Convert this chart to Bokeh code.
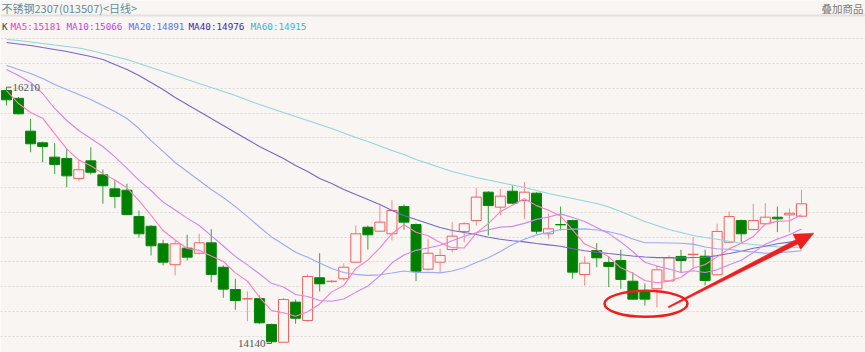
import math
from bokeh.plotting import figure
from bokeh.models import Range1d, Grid, FixedTicker, Label, ColumnDataSource, Span
from bokeh.embed import file_html
from bokeh.resources import INLINE

# ---------------- data ----------------
opens = [16183, 16120, 15855, 15761, 15645, 15634, 15473, 15615, 15502, 15389,
         15378, 15166, 15087, 14945, 14776, 14910, 14869, 14953, 14756, 14576,
         14500, 14503, 14293, 14150, 14474, 14326, 14671, 14640, 14663, 14797,
         15079, 15047, 15026, 15246, 15101, 14740, 14797, 14899, 15045, 15133,
         15362, 15241, 15370, 15295, 15354, 15026, 15101, 15133, 14697, 14891,
         14794, 14810, 14643, 14562, 14582, 14645, 14843, 14858, 14845, 14695,
         14958, 15133, 15061, 15107, 15160, 15179, 15168]
highs = [16210, 16130, 15955, 15770, 15758, 15712, 15624, 15725, 15545, 15462,
         15430, 15214, 15095, 14978, 14972, 15018, 15026, 15063, 14770, 14663,
         14560, 14528, 14300, 14506, 14495, 14697, 14869, 14652, 14786, 15093,
         15093, 15255, 15300, 15263, 15110, 14986, 14905, 15120, 15120, 15397,
         15370, 15389, 15416, 15443, 15362, 15188, 15246, 15141, 14843, 14950,
         14843, 14897, 14716, 14625, 14770, 14851, 14897, 14998, 14897, 15107,
         15208, 15141, 15268, 15273, 15246, 15230, 15381]
lows = [16062, 15990, 15685, 15604, 15510, 15402, 15451, 15505, 15268, 15233,
        15174, 14994, 14851, 14770, 14689, 14810, 14859, 14635, 14509, 14412,
        14320, 14300, 14140, 14145, 14299, 14318, 14560, 14632, 14649, 14790,
        14899, 15040, 14972, 15058, 14643, 14730, 14716, 14877, 14958, 15093,
        15012, 15174, 15265, 15147, 15026, 14986, 15053, 14663, 14608, 14756,
        14595, 14582, 14495, 14447, 14431, 14640, 14716, 14743, 14608, 14690,
        14955, 14958, 15053, 15100, 15039, 15039, 15165]
closes = [16108, 15995, 15753, 15731, 15586, 15494, 15543, 15523, 15414, 15327,
          15182, 15026, 14929, 14797, 14945, 14837, 14953, 14697, 14579, 14487,
          14502, 14307, 14154, 14495, 14344, 14681, 14622, 14643, 14756, 15026,
          15018, 15120, 15214, 15120, 14724, 14869, 14851, 15007, 15107, 15322,
          15255, 15330, 15273, 15362, 15047, 15066, 15098, 14716, 14789, 14832,
          14762, 14657, 14498, 14498, 14735, 14832, 14810, 14861, 14649, 15045,
          15166, 15026, 15133, 15160, 15147, 15192, 15268]

# moving-average values before their window is full
ma5_head = [16183, 16078, 16006, 15960]
ma10_head = [16353, 16304, 16248, 16159, 16038, 15941, 15860, 15796, 15731]
ma20_head = [16385, 16353, 16321, 16280, 16232, 16191, 16151, 16111, 16062, 16014,
             15957, 15876, 15779, 15691, 15602, 15529, 15456, 15384, 15319]
ma40_head = [16571, 16559, 16547, 16530, 16514, 16498, 16478, 16458, 16434, 16393,
             16353, 16304, 16248, 16191, 16127, 16070, 16014, 15957, 15901, 15844,
             15788, 15731, 15683, 15634, 15578, 15529, 15473, 15432, 15384, 15343,
             15303, 15263, 15214, 15174, 15141, 15109, 15077, 15053, 15036]
ma60_head = [16595, 16587, 16575, 16563, 16551, 16539, 16526, 16506, 16482, 16458,
             16434, 16401, 16369, 16337, 16304, 16272, 16240, 16207, 16175, 16143,
             16106, 16070, 16038, 16006, 15973, 15941, 15909, 15876, 15840, 15804,
             15771, 15735, 15699, 15666, 15626, 15594, 15561, 15529, 15505, 15481,
             15460, 15440, 15420, 15400, 15376, 15351, 15331, 15311, 15291, 15271,
             15242, 15206, 15166, 15125, 15093, 15061, 15036, 15012, 14996]

title_text = "不锈钢2307(013507)<日线>"
overlay_text = "叠加商品"
legend_labels = ["K", "MA5:15181", "MA10:15066", "MA20:14891", "MA40:14976", "MA60:14915"]
grid_prices = [14200, 14400, 14600, 14800, 15000, 15200, 15400, 15600, 15800, 16000, 16200, 16400, 16600]

# ---------------- styling / geometry ----------------
W, H = 865, 352
BG = "#F8F5F2"
X0_PX, STEP_PX = 6.0, 12.045          # centre of first candle, candle spacing
REF_PRICE, REF_PX, PRICE_PER_PX = 14140.0, 343.0, 8.076


def px2x(px):
    return (px - X0_PX) / STEP_PX


def py2y(py):
    return REF_PRICE + (REF_PX - py) * PRICE_PER_PX


def moving_average(head, n):
    out = list(head)
    for i in range(len(head), len(closes)):
        out.append(sum(closes[i - n + 1:i + 1]) / n)
    return out


idx = list(range(len(closes)))
ma5 = moving_average(ma5_head, 5)
ma10 = moving_average(ma10_head, 10)
ma20 = moving_average(ma20_head, 20)
ma40 = moving_average(ma40_head, 40)
ma60 = moving_average(ma60_head, 60)

p = figure(width=W, height=H, output_backend="svg", toolbar_location=None,
           x_range=Range1d(px2x(0), px2x(W)), y_range=Range1d(py2y(H), py2y(0)),
           x_axis_location=None, y_axis_location=None, min_border=0)
p.background_fill_color = BG
p.border_fill_color = BG
p.outline_line_color = None
for g in p.grid:
    g.visible = False

p.add_layout(Grid(dimension=1, ticker=FixedTicker(ticks=grid_prices),
                  grid_line_color="#DEDAD6", grid_line_dash="2 2", grid_line_width=1))
p.add_layout(Span(location=py2y(15), dimension="width", line_color="#E4E0DC", line_width=2))

# candles
up = [c >= o for o, c in zip(opens, closes)]
src = ColumnDataSource(dict(
    x=idx, o=opens, h=highs, l=lows, c=closes,
    top=[max(o, c) for o, c in zip(opens, closes)],
    bottom=[min(o, c) for o, c in zip(opens, closes)],
    wick=["#F28C8C" if u else "#3F9F3F" for u in up],
))
up_src = ColumnDataSource({k: [v for v, u in zip(vals, up) if u] for k, vals in src.data.items()})
dn_src = ColumnDataSource({k: [v for v, u in zip(vals, up) if not u] for k, vals in src.data.items()})

p.segment(x0="x", y0="l", x1="x", y1="h", source=src, line_color="wick", line_width=1)
p.vbar(x="x", top="top", bottom="bottom", width=0.83, source=up_src,
       fill_color="#FAF6F4", line_color="#F06060", line_width=1)
p.vbar(x="x", top="top", bottom="bottom", width=0.83, source=dn_src,
       fill_color="#008000", line_color="#0A870A", line_width=1)

# moving averages
p.line(idx, ma60, line_color="#8ED6DE", line_width=1.1)
p.line(idx, ma40, line_color="#7468CC", line_width=1.1)
p.line(idx, ma20, line_color="#9CA8FA", line_width=1.1)
p.line(idx, ma10, line_color="#CF86F0", line_width=1.1)
p.line(idx, ma5, line_color="#FF7CC8", line_width=1.1)

# extreme labels
hi_i = highs.index(max(highs))
lo_i = lows.index(min(lows))
p.segment(x0=[hi_i], y0=[max(highs)], x1=[hi_i + px2x(11) - px2x(6)], y1=[max(highs)],
          line_color="#666666", line_width=1)
p.add_layout(Label(x=hi_i + px2x(12) - px2x(6), y=max(highs), text=str(max(highs)),
                   text_font="Liberation Serif", text_font_size="11px", text_color="#555555",
                   text_baseline="middle", text_align="left"))
p.segment(x0=[lo_i - (px2x(271) - px2x(266))], y0=[min(lows)], x1=[lo_i], y1=[min(lows)],
          line_color="#666666", line_width=1)
p.add_layout(Label(x=lo_i - (px2x(271) - px2x(265)), y=min(lows), text=str(min(lows)),
                   text_font="Liberation Serif", text_font_size="11px", text_color="#555555",
                   text_baseline="middle", text_align="right"))

# red ellipse and arrow
RED = "#EC1E1E"
p.ellipse(x=[px2x(645.5)], y=[py2y(303.3)], width=83, height=26,
          width_units="screen", height_units="screen",
          fill_color=None, line_color=RED, line_width=2.5)

sx, sy = 668.0, 306.7
tx, ty = 813.3, 232.7
L = math.hypot(tx - sx, ty - sy)
ux, uy = (tx - sx) / L, (ty - sy) / L
nx, ny = -uy, ux
hl, hw, w0, w1 = 19.0, 8.5, 0.7, 2.4
bx, by = tx - hl * ux, ty - hl * uy
poly_px = [(sx + w0 * nx, sy + w0 * ny), (bx + w1 * nx, by + w1 * ny), (bx + hw * nx, by + hw * ny),
           (tx, ty), (bx - hw * nx, by - hw * ny), (bx - w1 * nx, by - w1 * ny),
           (sx - w0 * nx, sy - w0 * ny)]
p.patch([px2x(a) for a, b in poly_px], [py2y(b) for a, b in poly_px],
        fill_color=RED, line_color=RED, line_width=0.5)

# header texts
p.add_layout(Label(x=px2x(1), y=py2y(7.5), text=title_text, text_font="Noto Sans CJK SC",
                   text_font_size="11px", text_color="#5F8D9B", text_baseline="middle"))
p.add_layout(Label(x=px2x(863), y=py2y(7.5), text=overlay_text, text_font="Noto Sans CJK SC",
                   text_font_size="10.5px", text_color="#7A7A7A", text_baseline="middle",
                   text_align="right"))
legend_x = [1.5, 10, 66, 128, 188, 250]
legend_colors = ["#444444", "#F23CB4", "#C046E6", "#5574F5", "#3A2CA6", "#36B4D8"]
for t, lx, col in zip(legend_labels, legend_x, legend_colors):
    p.add_layout(Label(x=px2x(lx), y=py2y(25.5), text=t, text_font="DejaVu Sans Mono",
                       text_font_size="9.3px", text_color=col, text_baseline="middle"))

open("out.html", "w").write(file_html(p, INLINE))
